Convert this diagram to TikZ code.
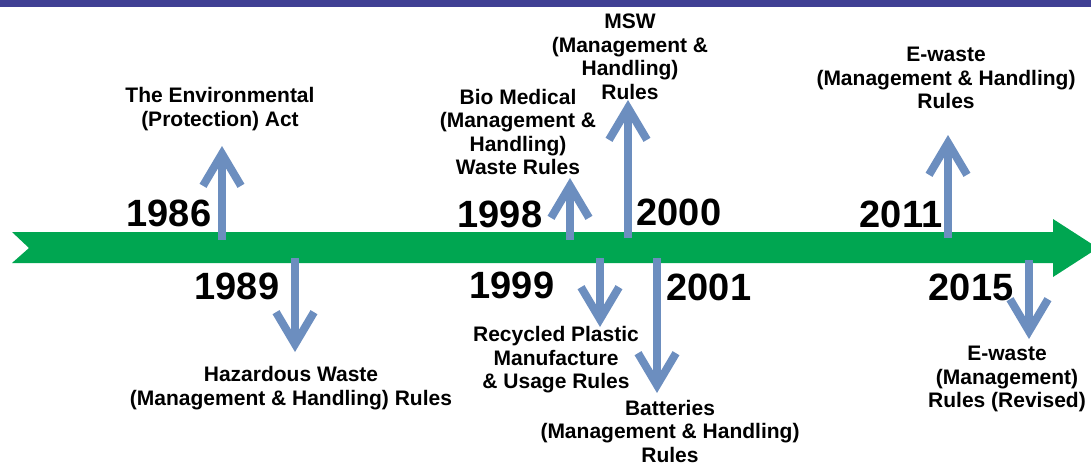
\documentclass[tikz,border=0pt]{standalone}
\usepackage{fontspec}
\setmainfont{Liberation Sans}
\usetikzlibrary{positioning,arrows.meta}

\definecolor{topblue}{RGB}{64,64,148}
\definecolor{lawgreen}{RGB}{0,166,81}
\definecolor{steel}{RGB}{108,142,191}

\tikzset{
  event/.style={steel, line width=8pt, -{Straight Barb[length=32pt,width=38pt]}},
  year/.style={font=\bfseries\fontsize{38}{38}\selectfont, inner sep=0pt},
  law/.style={font=\bfseries\fontsize{21}{23.5}\selectfont, align=center, inner sep=0pt}
}

\begin{document}
\begin{tikzpicture}[x=1pt,y=-1pt]
\useasboundingbox (0,0) rectangle (1091,466);
\fill[topblue] (0,0) rectangle (1091,7);
% timeline
\fill[lawgreen] (12,232) -- (1053,232) -- (1053,219) -- (1098,248) -- (1053,277)
  -- (1053,263) -- (12,263) -- (29,248) -- cycle;
% points on the timeline and arrow ends
\coordinate (a86) at (222,240);
\coordinate (b86) at (222,146);
\coordinate (a89) at (295,258);
\coordinate (b89) at (295,352);
\coordinate (a98) at (570,240);
\coordinate (b98) at (570,178);
\coordinate (a99) at (600,258);
\coordinate (b99) at (600,327);
\coordinate (a00) at (628,238);
\coordinate (b00) at (628,100);
\coordinate (a01) at (657,258);
\coordinate (b01) at (657,393);
\coordinate (a11) at (948,238);
\coordinate (b11) at (948,135);
\coordinate (a15) at (1029,260);
\coordinate (b15) at (1029,339);
\draw[event] (a86) -- (b86);
\draw[event] (a89) -- (b89);
\draw[event] (a98) -- (b98);
\draw[event] (a99) -- (b99);
\draw[event] (a00) -- (b00);
\draw[event] (a01) -- (b01);
\draw[event] (a11) -- (b11);
\draw[event] (a15) -- (b15);
% years
\node[year] (y86) at (169,213) {1986};
\node[year] (y89) at (237,286) {1989};
\node[year] (y98) at (500,214) {1998};
\node[year] (y99) at (512,285) {1999};
\node[year] (y00) at (679,212) {2000};
\node[year] (y01) at (709,287) {2001};
\node[year] (y11) at (901,214) {2011};
\node[year] (y15) at (971,287) {2015};
% acts and rules
\node[law] (epa) at (220,109) {The Environmental\\(Protection) Act};
\node[law] (hw) at (291,388) {Hazardous Waste\\(Management \& Handling) Rules};
\node[law] (bmw) at (518,132) {Bio Medical\\(Management \&\\Handling)\\Waste Rules};
\node[law] (msw) at (630,57) {MSW\\(Management \&\\Handling)\\Rules};
\node[law] (rp) at (556,360) {Recycled Plastic\\Manufacture\\\& Usage Rules};
\node[law] (bat) at (670,431) {Batteries\\(Management \& Handling)\\Rules};
\node[law] (ew) at (946,78) {E-waste\\(Management \& Handling)\\Rules};
\node[law] (ewr) at (1007,379) {E-waste\\(Management)\\Rules (Revised)};
\end{tikzpicture}
\end{document}
